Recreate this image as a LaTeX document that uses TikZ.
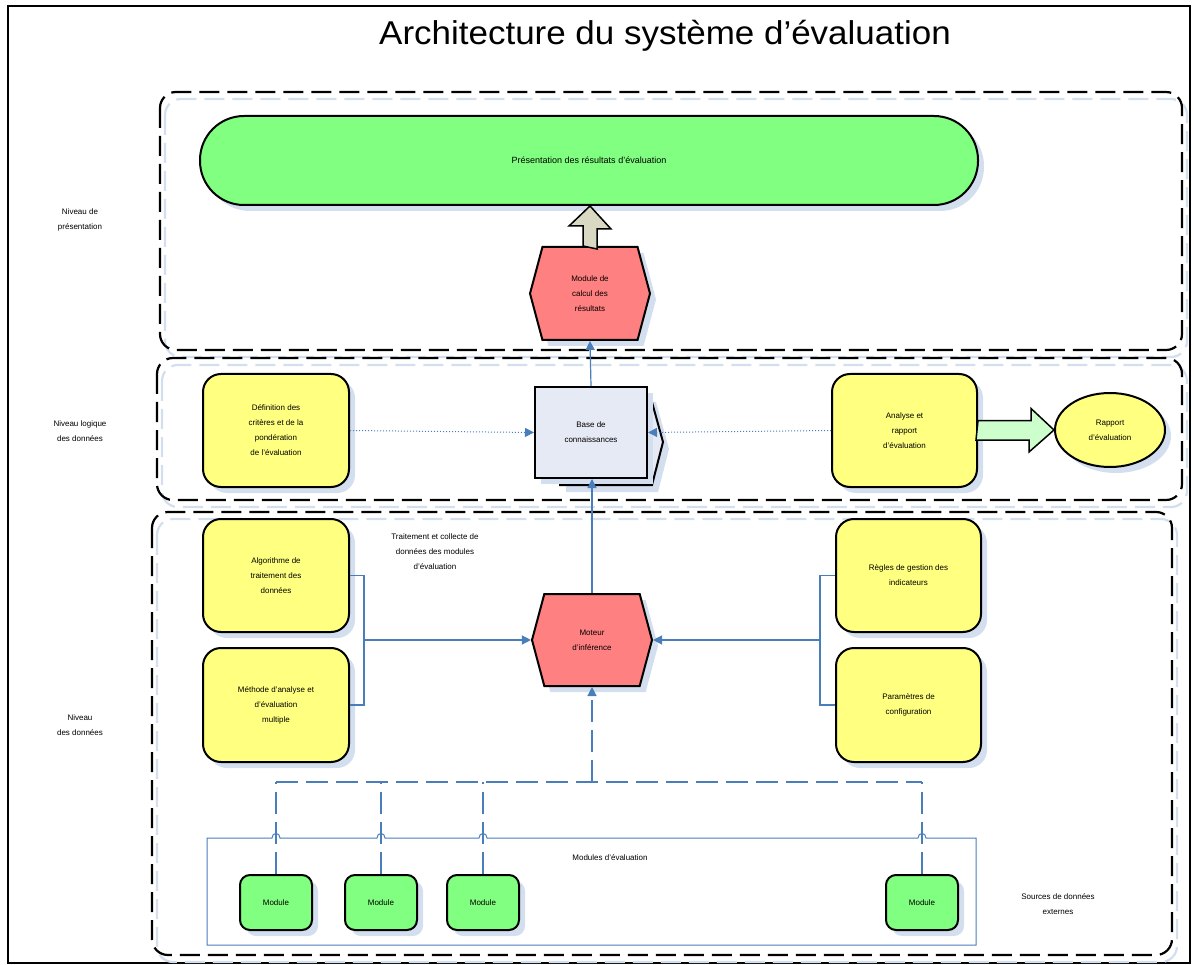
\documentclass[tikz,border=0pt]{standalone}
\usepackage{fontspec}
\setmainfont{Liberation Sans}
\usetikzlibrary{shapes.geometric,shapes.symbols,arrows.meta,shadows}
\definecolor{grn}{HTML}{80FF80}
\definecolor{yel}{HTML}{FFFF80}
\definecolor{redf}{HTML}{FF8080}
\definecolor{cboxf}{HTML}{E6EAF5}
\definecolor{beig}{HTML}{D9D9C3}
\definecolor{lgrn}{HTML}{CCFFCC}
\definecolor{bl}{HTML}{4A7EBB}
\definecolor{shadowc}{HTML}{D3DEEF}
\newcommand\bodyf{\fontsize{8}{15}\selectfont}
\begin{document}
\begin{tikzpicture}[x=1pt,y=-1pt,
  sh/.style={drop shadow={shadow xshift=6pt,shadow yshift=-6pt,fill=shadowc,opacity=1}},
  base/.style={draw=black,line width=2pt,align=center,font=\bodyf,inner sep=2pt,sh},
  ybox/.style={base,fill=yel,rounded corners=18pt,minimum width=146pt,minimum height=113pt},
  gbox/.style={base,fill=grn,rounded corners=10pt,minimum width=72pt,minimum height=55pt},
  hexa/.style={base,fill=redf,shape=signal,signal to=east and west,signal pointer angle=150,minimum width=120pt,minimum height=93pt},
  lane/.style={draw=black,line width=2.2pt,dash pattern=on 20pt off 8pt,rounded corners=16pt},
  laneshadow/.style={draw=shadowc,line width=2.2pt,dash pattern=on 20pt off 8pt,rounded corners=16pt},
  blueline/.style={draw=bl,line width=1.2pt},
  tip/.style={-{Triangle[length=9pt,width=9pt]}},
  dotline/.style={draw=bl,line width=1pt,dotted,-{Triangle[length=9pt,width=9pt]}},
  dashblue/.style={draw=bl,line width=1.2pt,dash pattern=on 22pt off 8pt},
  lbl/.style={align=center,font=\bodyf,inner sep=0pt}
]
\useasboundingbox (0,0) rectangle (1194,965);
\draw[line width=1.5pt] (8,6) rectangle (1190,963);

\node[inner sep=0pt] (title) at (665,36) {\scalebox{1.06}[1]{\fontsize{33}{38}\selectfont Architecture du système d’évaluation}};

% lanes
\draw[laneshadow] (165,99) rectangle (1187,357);
\draw[laneshadow] (162,365) rectangle (1187,507);
\draw[laneshadow] (157,519) rectangle (1177,962);
\draw[lane] (160,92) rectangle (1182,350);
\draw[lane] (157,358) rectangle (1182,500);
\draw[lane] (152,512) rectangle (1172,955);

% lane labels
\node[lbl] (l1) at (80,220) {Niveau de\\présentation};
\node[lbl] (l2) at (80,431) {Niveau logique\\des données};
\node[lbl] (l3) at (80,725) {Niveau\\des données};

% top lane
\node[base,fill=grn,rounded corners=44pt,minimum width=778pt,minimum height=89pt,font=\fontsize{9}{12}\selectfont] (pill) at (589,160.5) {Présentation des résultats d’évaluation};
\node[hexa] (hexTop) at (590,293.5) {Module de\\calcul des\\résultats};
\draw[draw=black,line width=1.5pt,fill=beig] (hexTop.north) ++(-7,0) -- ++(0,-20) -- ++(-14,0) -- (pill.south -| hexTop.north) -- ++(21,23) -- ++(-14,0) -- ++(0,20) -- cycle;

% middle lane
\fill[shadowc] (566,485) -- (566,492) -- (658,492) -- (669,449) -- (656,402) -- (653,402) -- cycle;
\draw[line width=2pt,fill=cboxf] (560,478) -- (560,485) -- (652,485) -- (663,442) -- (650,395) -- (647,395) -- cycle;
\node[base,fill=cboxf,minimum width=112pt,minimum height=91pt] (cbox) at (591,432.5) {Base de\\connaissances};
\node[ybox] (yLm) at (276,430.5) {Définition des\\critères et de la\\pondération\\de l’évaluation};
\node[ybox,minimum width=145pt] (yRm) at (904.5,430.5) {Analyse et\\rapport\\d’évaluation};
\node[base,fill=yel,shape=ellipse,minimum width=110pt,minimum height=74pt,inner sep=0pt] (ell) at (1110,430) {Rapport\\d’évaluation};
\draw[line width=1.5pt,fill=lgrn] (yRm.east) ++(0,-10) -- ++(53,0) -- ++(0,-12) -- (ell.west) -- ++(-25,22) -- ++(0,-12) -- ++(-53,0) -- cycle;
\draw[dotline] (yLm.east) -- (cbox.west);
\draw[dotline] (yRm.west) -- (cbox.east);
\draw[blueline,tip] (cbox.north) -- (hexTop.south);

% bottom lane
\node[hexa,minimum height=92pt] (hexMid) at (592,640) {Moteur\\d’inférence};
\draw[blueline,tip] (hexMid.north) -- (hexMid.north |- cbox.south);
\node[ybox] (yL1) at (276,575.5) {Algorithme de\\traitement des\\données};
\node[ybox,minimum height=114pt] (yL2) at (276,705) {Méthode d’analyse et\\d’évaluation\\multiple};
\node[ybox,minimum width=145pt] (yR1) at (908.5,575.5) {Règles de gestion des\\indicateurs};
\node[ybox,minimum width=145pt,minimum height=114pt] (yR2) at (908.5,705) {Paramètres de\\configuration};
\node[lbl] (ann) at (435,552) {Traitement et collecte de\\données des modules\\d’évaluation};

\coordinate (jl) at (364,640);
\coordinate (jr) at (820,640);
\draw[blueline] (yL1.east) -- (yL1.east -| jl) -- (yL2.east -| jl) -- (yL2.east);
\draw[blueline,tip] (jl) -- (hexMid.west);
\draw[blueline] (yR1.west) -- (yR1.west -| jr) -- (yR2.west -| jr) -- (yR2.west);
\draw[blueline,tip] (jr) -- (hexMid.east);

% modules
\node[gbox] (m1) at (276,902.5) {Module};
\node[gbox] (m2) at (381,902.5) {Module};
\node[gbox] (m3) at (483,902.5) {Module};
\node[gbox] (m4) at (922,902.5) {Module};
\node[lbl] (modlbl) at (610,858) {Modules d’évaluation};
\node[lbl] (ext) at (1058,904) {Sources de données\\externes};

% bottom container with line hops
\draw[blueline,line width=1pt] (207,838)
  -- (272,838) .. controls +(0,-6) and +(0,-6) .. (280,838)
  -- (377,838) .. controls +(0,-6) and +(0,-6) .. (385,838)
  -- (479,838) .. controls +(0,-6) and +(0,-6) .. (487,838)
  -- (918,838) .. controls +(0,-6) and +(0,-6) .. (926,838)
  -- (976,838) -- (976,945) -- (207,945) -- cycle;

\coordinate (dj) at (592,782);
\draw[dashblue] (m1.north |- dj) -- (m4.north |- dj);
\draw[dashblue,tip] (dj) -- (hexMid.south);
\foreach \m in {m1,m2,m3,m4}{
  \draw[dashblue] (\m.north) -- (\m.north |- dj);
}
\end{tikzpicture}
\end{document}
